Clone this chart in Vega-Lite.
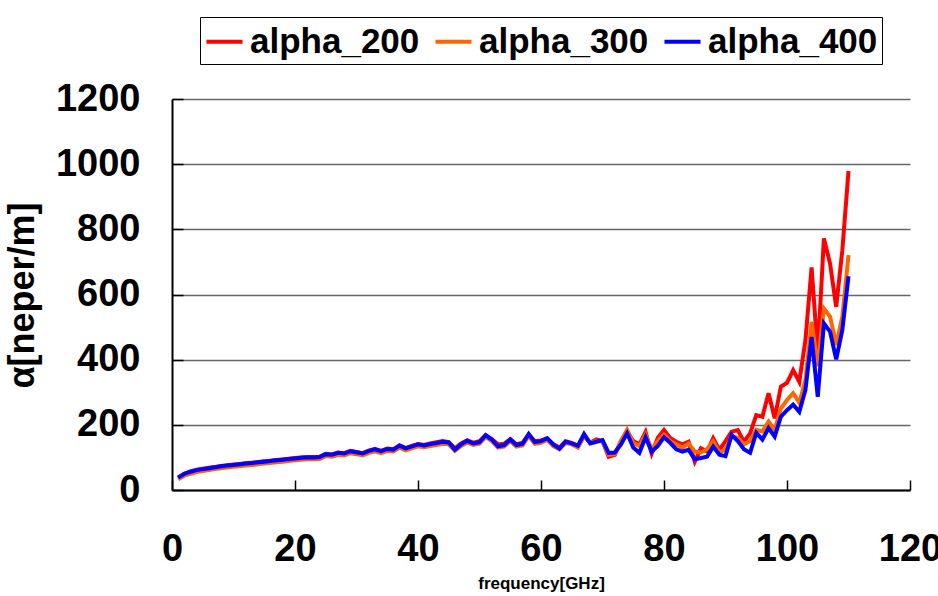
{
  "$schema": "https://vega.github.io/schema/vega-lite/v6.json",
  "autosize": {"type": "none"},
  "width": 738,
  "height": 391,
  "padding": {"left": 172, "top": 99, "right": 28, "bottom": 106},
  "background": "white",
  "config": {
    "view": {"stroke": null},
    "font": "Liberation Sans",
    "axis": {"labelFont": "Liberation Sans", "titleFont": "Liberation Sans"}
  },
  "data": {
    "values": [
      {"f":1,"a":38,"b":33,"c":38},{"f":2,"a":50,"b":44,"c":50},{"f":3,"a":57,"b":50,"c":56},{"f":4,"a":62,"b":55,"c":61},{"f":5,"a":65,"b":58,"c":64},
      {"f":6,"a":68,"b":61,"c":67},{"f":7,"a":71,"b":64,"c":70},{"f":8,"a":74,"b":67,"c":73},{"f":9,"a":76,"b":69,"c":75},{"f":10,"a":78,"b":71,"c":77},
      {"f":11,"a":80,"b":73,"c":79},{"f":12,"a":82,"b":75,"c":81},{"f":13,"a":84,"b":77,"c":83},{"f":14,"a":86,"b":79,"c":85},{"f":15,"a":88,"b":81,"c":87},
      {"f":16,"a":90,"b":83,"c":89},{"f":17,"a":92,"b":85,"c":91},{"f":18,"a":94,"b":87,"c":93},{"f":19,"a":96,"b":89,"c":95},{"f":20,"a":98,"b":91,"c":97},
      {"f":21,"a":100,"b":93,"c":99},{"f":22,"a":101,"b":94,"c":100},{"f":23,"a":101,"b":94,"c":100},{"f":24,"a":102,"b":95,"c":101},{"f":25,"a":111,"b":104,"c":110},
      {"f":26,"a":109,"b":102,"c":108},{"f":27,"a":115,"b":108,"c":114},{"f":28,"a":113,"b":106,"c":112},{"f":29,"a":120,"b":113,"c":119},{"f":30,"a":117,"b":110,"c":116},
      {"f":31,"a":113,"b":106,"c":112},{"f":32,"a":121,"b":114,"c":120},{"f":33,"a":126,"b":119,"c":125},{"f":34,"a":120,"b":113,"c":119},{"f":35,"a":127,"b":120,"c":126},
      {"f":36,"a":125,"b":118,"c":124},{"f":37,"a":137,"b":130,"c":136},{"f":38,"a":129,"b":122,"c":128},{"f":39,"a":135,"b":128,"c":134},{"f":40,"a":141,"b":134,"c":140},
      {"f":41,"a":138,"b":131,"c":137},{"f":42,"a":143,"b":135,"c":141},{"f":43,"a":147,"b":138,"c":144},{"f":44,"a":150,"b":142,"c":148},{"f":45,"a":147,"b":140,"c":146},
      {"f":46,"a":128,"b":120,"c":124},{"f":47,"a":143,"b":135,"c":140},{"f":48,"a":153,"b":146,"c":151},{"f":49,"a":145,"b":138,"c":143},{"f":50,"a":150,"b":142,"c":147},
      {"f":51,"a":168,"b":163,"c":168},{"f":52,"a":156,"b":150,"c":155},{"f":53,"a":140,"b":130,"c":134},{"f":54,"a":142,"b":133,"c":138},{"f":55,"a":156,"b":150,"c":155},
      {"f":56,"a":140,"b":133,"c":138},{"f":57,"a":145,"b":137,"c":142},{"f":58,"a":170,"b":166,"c":172},{"f":59,"a":150,"b":142,"c":147},{"f":60,"a":152,"b":145,"c":150},
      {"f":61,"a":158,"b":154,"c":159},{"f":62,"a":140,"b":135,"c":140},{"f":63,"a":130,"b":125,"c":127},{"f":64,"a":150,"b":145,"c":148},{"f":65,"a":145,"b":140,"c":143},
      {"f":66,"a":135,"b":130,"c":136},{"f":67,"a":165,"b":165,"c":172},{"f":68,"a":145,"b":145,"c":143},{"f":69,"a":155,"b":150,"c":148},{"f":70,"a":150,"b":150,"c":153},
      {"f":71,"a":102,"b":108,"c":114},{"f":72,"a":108,"b":110,"c":115},{"f":73,"a":150,"b":150,"c":140},{"f":74,"a":180,"b":185,"c":174},{"f":75,"a":150,"b":145,"c":130},
      {"f":76,"a":140,"b":135,"c":114},{"f":77,"a":178,"b":170,"c":162},{"f":78,"a":112,"b":125,"c":118},{"f":79,"a":160,"b":150,"c":135},{"f":80,"a":184,"b":170,"c":162},
      {"f":81,"a":160,"b":150,"c":145},{"f":82,"a":148,"b":140,"c":125},{"f":83,"a":140,"b":130,"c":118},{"f":84,"a":148,"b":143,"c":123},{"f":85,"a":87,"b":118,"c":94},
      {"f":86,"a":128,"b":115,"c":98},{"f":87,"a":118,"b":125,"c":102},{"f":88,"a":159,"b":150,"c":133},{"f":89,"a":123,"b":115,"c":108},{"f":90,"a":150,"b":125,"c":104},
      {"f":91,"a":179,"b":165,"c":169},{"f":92,"a":184,"b":160,"c":150},{"f":93,"a":148,"b":140,"c":125},{"f":94,"a":174,"b":150,"c":114},{"f":95,"a":230,"b":185,"c":175},
      {"f":96,"a":225,"b":180,"c":155},{"f":97,"a":297,"b":210,"c":190},{"f":98,"a":220,"b":184,"c":164},{"f":99,"a":317,"b":250,"c":225},{"f":100,"a":329,"b":276,"c":245},
      {"f":101,"a":368,"b":297,"c":262},{"f":102,"a":332,"b":268,"c":240},{"f":103,"a":460,"b":337,"c":307},{"f":104,"a":683,"b":516,"c":470},{"f":105,"a":420,"b":380,"c":286},
      {"f":106,"a":772,"b":557,"c":511},{"f":107,"a":695,"b":532,"c":486},{"f":108,"a":562,"b":445,"c":401},{"f":109,"a":736,"b":532,"c":491},{"f":110,"a":979,"b":721,"c":656}
    ]
  },
  "transform": [
    {"fold": ["a", "b", "c"], "as": ["key", "v"]},
    {"lookup": "key", "from": {"data": {"values": [{"key":"a","series":"alpha_200"},{"key":"b","series":"alpha_300"},{"key":"c","series":"alpha_400"}]}, "key": "key", "fields": ["series"]}}
  ],
  "mark": {"type": "line", "strokeWidth": 4, "strokeJoin": "miter", "clip": true},
  "encoding": {
    "x": {
      "field": "f", "type": "quantitative",
      "scale": {"domain": [0, 120], "nice": false, "zero": false},
      "axis": {
        "title": "frequency[GHz]",
        "values": [0, 20, 40, 60, 80, 100, 120],
        "format": "d",
        "grid": false,
        "domainColor": "black", "domainWidth": 2,
        "tickColor": "black", "tickWidth": 1.5, "tickSize": -10,
        "labelFontSize": 38, "labelFontWeight": "bold", "labelColor": "black",
        "labelPadding": 50, "labelFlush": false, "labelOverlap": false,
        "titleFontSize": 17, "titleFontWeight": "bold", "titleColor": "black",
        "titleX": 369, "titleY": 93, "titleBaseline": "middle"
      }
    },
    "y": {
      "field": "v", "type": "quantitative",
      "scale": {"domain": [0, 1200], "nice": false},
      "axis": {
        "title": "α[neper/m]",
        "values": [0, 200, 400, 600, 800, 1000, 1200],
        "format": "d",
        "grid": true, "gridColor": "#666666", "gridWidth": 1.5,
        "domainColor": "black", "domainWidth": 2,
        "tickColor": "black", "tickWidth": 1.5, "tickSize": -11,
        "labelFontSize": 38, "labelFontWeight": "bold", "labelColor": "black",
        "labelPadding": 43, "labelFlush": false, "labelOverlap": false,
        "titleFontSize": 36, "titleFontWeight": "bold", "titleColor": "black",
        "titleAngle": -90, "titleX": -150, "titleY": 196, "titleAlign": "center", "titleBaseline": "middle"
      }
    },
    "color": {
      "field": "series", "type": "nominal",
      "scale": {"domain": ["alpha_200", "alpha_300", "alpha_400"], "range": ["#FF0000", "#FF6600", "#0000FF"]},
      "legend": {
        "title": null,
        "orient": "none", "legendX": 28, "legendY": -82,
        "direction": "horizontal",
        "strokeColor": "black", "padding": 4,
        "symbolType": "stroke", "symbolStrokeWidth": 4, "symbolSize": 1300,
        "labelFontSize": 35, "labelFontWeight": "bold", "labelColor": "black",
        "labelLimit": 400, "columnPadding": 7, "labelOffset": 5
      }
    }
  }
}
